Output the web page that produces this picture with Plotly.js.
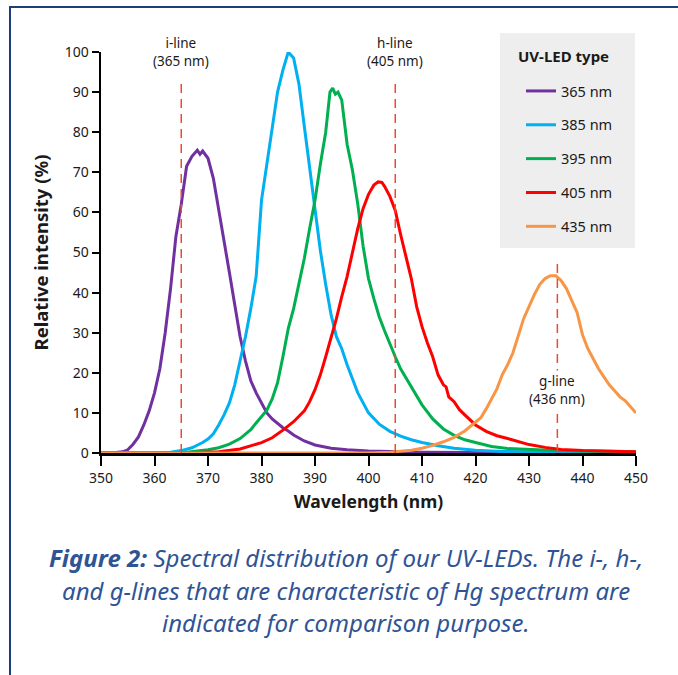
<!DOCTYPE html>
<html>
<head>
<meta charset="utf-8">
<script src="https://cdn.plot.ly/plotly-3.0.1.min.js"></script>
<style>
  html, body { margin: 0; padding: 0; background: #ffffff; }
  #chart { width: 678px; height: 675px; }
</style>
</head>
<body>
<div id="chart"></div>
<script>
// ---------- data ----------
const seriesNames = ['365 nm', '385 nm', '395 nm', '405 nm', '435 nm'];
const seriesColors = ['#7030a0', '#00b0f0', '#00b050', '#ff0000', '#f79646'];

const wl365 = [350,352,354,355,356,357,358,359,360,361,362,363,364,365,366,367,368,368.5,369,370,371,372,373,374,375,376,377,378,379,380,381,382,384,385,386,388,390,393,396,400,405,410,420,430,440,450];
const int365 = [0,0,0.3,0.8,2.2,4,7,10.5,15,21,30,41,54,62,71.5,74,75.5,74.5,75.3,73.5,68.5,61,53,45,37,29,23,18,15,12.5,10,8.5,6.3,5.5,4.5,3,2,1.2,0.8,0.5,0.3,0.2,0.1,0,0,0];

const wl385 = [350,360,363,365,367,369,370,371,372,373,374,375,376,377,378,379,380,381,382,383,384,385,386,387,388,389,390,391,392,393,394,395,396,397,398,400,402,404,406,408,410,413,416,420,425,430,440,450];
const int385 = [0,0,0.2,0.6,1.3,2.6,3.5,4.8,7,9.5,12.5,17,23,29,36,44,63,72,81,90,95.5,100,98.5,92,81.5,71,60,50.5,42,34.5,29,26,22,18.3,15,10,7.2,5.4,4.2,3.3,2.6,1.8,1.2,0.7,0.4,0.3,0.2,0.2];

const wl395 = [350,360,366,370,372,374,376,378,379,380,381,382,383,384,385,386,387,388,389,390,391,392,392.8,393.3,393.8,394.3,395,395.5,396,397,398,399,400,401,402,403,404,405,406,408,410,412,414,416,418,420,423,426,430,435,440,450];
const int395 = [0,0,0.2,0.8,1.3,2.2,3.6,5.8,7.5,9,10.7,13.5,17.5,24,31,36,42,48.5,56,63,72,80,90,91,89.5,90,88,83,77,70.5,62,51.5,43.5,38.5,34,30.5,27,24,21,16.5,12,8.5,6,4.4,3.3,2.6,1.6,1.1,0.8,0.6,0.5,0.3];

const wl405 = [350,365,372,376,380,382,384,386,388,389,390,391,392,393,394,395,396,397,398,399,400,401,401.8,402.5,403,404,405,406,407,408,409,410,411,412,413,414,414.5,415,416,417,418,420,422,424,426,428,430,433,436,440,445,450];
const int405 = [0,0,0.3,1,2.6,3.8,5.7,7.8,10.5,12.8,15.8,19.5,24,28.5,33.5,39,44,50,56,61,64.5,66.8,67.6,67.5,66.5,64,60.5,54.5,49,43.5,36.5,31.5,27.5,24,19.5,17,16.5,14,12.8,10.8,9.5,7,5.4,4.3,3.6,2.8,2.1,1.4,0.9,0.6,0.4,0.3];

const wl435 = [350,400,404,408,410,412,414,416,418,419.5,421,422,423,424,425,426,427,428,429,430,431,432,433,434,435,436,437,438,439,440,441,442,443,444,445,446,447,448,449,450];
const int435 = [0,0,0.2,0.7,1.2,1.9,2.8,3.9,5.5,7.2,8.8,11,13.4,16,19.5,22,25,29.5,33.5,36.5,39.5,42,43.5,44.2,44.2,43,41,38,35,29.5,26,23.5,21,19,17,15.5,14,13,11.5,10];

// Hg reference lines
const hgWl = [365, 405, 435.3];
const hgTop = [93, 93, 48.5];
const hgLabels = ['i-line<br>(365 nm)', 'h-line<br>(405 nm)', 'g-line<br>(436 nm)'];

const xTicks = [350,360,370,380,390,400,410,420,430,440,450];
const yTicks = [0,10,20,30,40,50,60,70,80,90,100];

const legendTitle = '<b>UV-LED type</b>';
const captionLines = [
  '<i><b>Figure 2:</b> Spectral distribution of our UV-LEDs. The i-, h-,</i>',
  '<i>and g-lines that are characteristic of Hg spectrum are</i>',
  '<i>indicated for comparison purpose.</i>'
];

// ---------- layout helpers (pixel -> paper) ----------
const W = 678, H = 675;
const M = {l: 101, r: 42, t: 52, b: 222};
const PW = W - M.l - M.r, PH = H - M.t - M.b;
const px = p => (p - M.l) / PW;
const py = p => (H - M.b - p) / PH;
const FONT = 'Noto Sans, sans-serif';
const INK = '#1a1a1a';

const xs = [wl365, wl385, wl395, wl405, wl435];
const ys = [int365, int385, int395, int405, int435];

const traces = seriesNames.map((n, i) => ({
  type: 'scatter', mode: 'lines', name: n,
  x: xs[i], y: ys[i],
  legendgroup: 'g' + i,
  line: {color: seriesColors[i], width: 3}
}));

const shapes = [
  // legend background
  {type: 'rect', xref: 'paper', yref: 'paper', x0: px(500), x1: px(635), y0: py(248), y1: py(33),
   fillcolor: '#eeeeee', line: {width: 0}, layer: 'below'},
  // frame lines
  {type: 'line', xref: 'paper', yref: 'paper', x0: px(10), x1: px(10), y0: py(7), y1: py(676),
   line: {color: '#1f3d7a', width: 2}},
  {type: 'line', xref: 'paper', yref: 'paper', x0: px(9), x1: px(679), y0: py(7), y1: py(7),
   line: {color: '#1f3d7a', width: 2}}
];
hgWl.forEach((w, i) => {
  shapes.push({type: 'line', xref: 'x', yref: 'y', x0: w, x1: w, y0: 0, y1: hgTop[i],
    line: {color: '#ec4a2c', width: 1.5, dash: '9px,6px'}, layer: 'above'});
});

// label centres (pixel y) for the Hg line labels
const hgLabelPy = [52, 52, 390];
const annotations = hgWl.map((w, i) => ({
  xref: 'x', yref: 'paper', x: w, y: py(hgLabelPy[i]), text: hgLabels[i], showarrow: false,
  xanchor: 'center', yanchor: 'middle', align: 'center',
  font: {family: FONT, size: 13.5, color: INK},
  bgcolor: i === 2 ? '#ffffff' : 'rgba(0,0,0,0)', borderpad: 1
}));
annotations.push({xref: 'paper', yref: 'paper', x: px(516), y: py(56), text: legendTitle,
  showarrow: false, xanchor: 'left', yanchor: 'middle',
  font: {family: FONT, size: 15, color: INK}});
const capY = [557, 590, 622];
captionLines.forEach((t, i) => {
  annotations.push({xref: 'paper', yref: 'paper', x: px(346), y: py(capY[i]), text: t,
    showarrow: false, xanchor: 'center', yanchor: 'middle',
    font: {family: FONT, size: 24, color: '#2f5496'}});
});

const axisCommon = {
  showline: true, linecolor: '#000000', showgrid: false, zeroline: false,
  ticks: 'outside', tickcolor: '#000000', tickwidth: 2, automargin: false,
  tickfont: {family: FONT, size: 14, color: INK},
  fixedrange: true
};

const layout = {
  width: W, height: H,
  margin: M,
  paper_bgcolor: '#ffffff', plot_bgcolor: 'rgba(0,0,0,0)',
  font: {family: FONT, color: INK},
  xaxis: Object.assign({}, axisCommon, {
    range: [350, 450], tickvals: xTicks, ticktext: xTicks.map(String),
    linewidth: 3, ticklen: 10,
    title: {text: '<b>Wavelength (nm)</b>', font: {family: FONT, size: 17.5, color: INK}, standoff: 10}
  }),
  yaxis: Object.assign({}, axisCommon, {
    range: [0, 100], tickvals: yTicks, ticktext: yTicks.map(String),
    linewidth: 2.5, ticklen: 7,
    title: {text: '<b>Relative intensity (%)</b>', font: {family: FONT, size: 18.5, color: INK}, standoff: 11}
  }),
  showlegend: true,
  legend: {
    x: px(521), y: py(75), xanchor: 'left', yanchor: 'top',
    bgcolor: 'rgba(0,0,0,0)', borderwidth: 0,
    font: {family: FONT, size: 14.5, color: INK},
    traceorder: 'grouped', tracegroupgap: 12, itemwidth: 30
  },
  shapes: shapes,
  annotations: annotations,
  hovermode: false
};

Plotly.newPlot('chart', traces, layout, {staticPlot: true, displayModeBar: false});
</script>
</body>
</html>
